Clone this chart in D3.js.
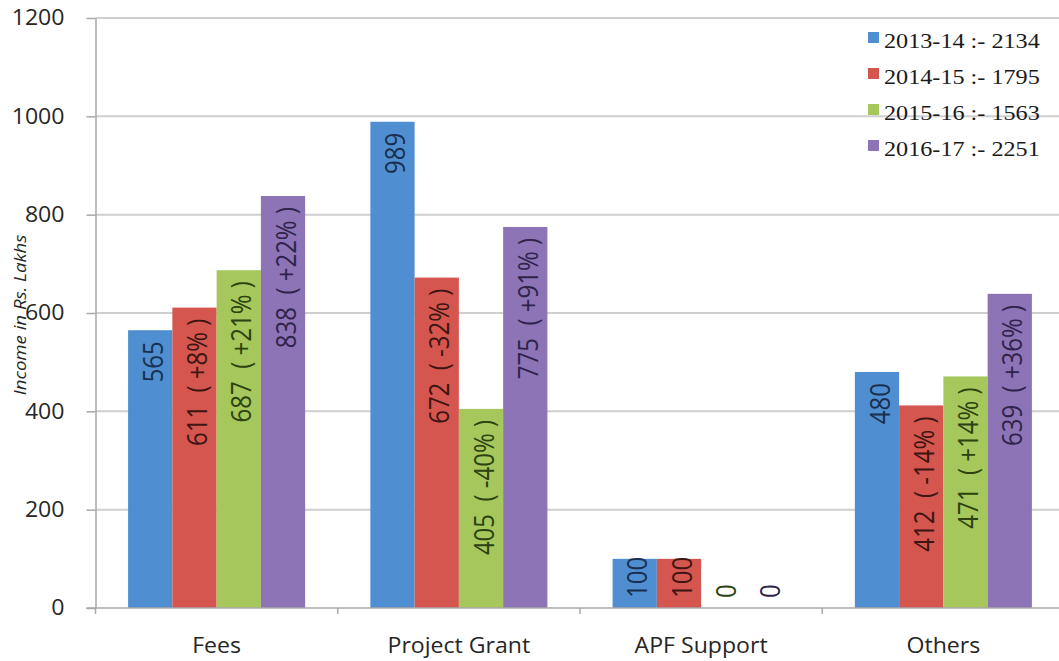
<!DOCTYPE html>
<html>
<head>
<meta charset="utf-8">
<script src="https://cdn.jsdelivr.net/npm/d3@7"></script>
<style>
  body { margin: 0; background: #fff; }
  svg { display: block; }
  text { font-family: "Open Sans", sans-serif; }
</style>
</head>
<body>
<svg id="chart" width="1059" height="661"></svg>
<script>
// chart data
var categories = ['Fees', 'Project Grant', 'APF Support', 'Others'];
var seriesNames = ['2013-14 :- 2134', '2014-15 :- 1795', '2015-16 :- 1563', '2016-17 :- 2251'];
var values2013 = [565, 989, 100, 480];
var values2014 = [611, 672, 100, 412];
var values2015 = [687, 405, 0, 471];
var values2016 = [838, 775, 0, 639];
var change2013 = ['', '', '', ''];
var change2014 = ['( +8% )', '( -32% )', '', '( -14% )'];
var change2015 = ['( +21% )', '( -40% )', '', '( +14% )'];
var change2016 = ['( +22% )', '( +91% )', '', '( +36% )'];
var yTicks = [0, 200, 400, 600, 800, 1000, 1200];

var seriesColors = ['#4f8fd1', '#d4564f', '#a6c75b', '#8d74b6'];
var labelColors = ['#1a2f50', '#3d1512', '#2c4211', '#30234b'];

var seriesValues = [values2013, values2014, values2015, values2016];
var seriesChanges = [change2013, change2014, change2015, change2016];

var svg = d3.select('#chart');
var width = 1059;

var x0 = d3.scaleBand()
  .domain(categories)
  .range([95.5, 1064.5])
  .padding(0);

var x1 = d3.scaleBand()
  .domain(d3.range(seriesNames.length))
  .range([32.6, x0.bandwidth() - 32.6])
  .padding(0);

var y = d3.scaleLinear()
  .domain([0, 1200])
  .range([608, 18]);

// gridlines
svg.append('g')
  .selectAll('line')
  .data(yTicks.filter(d => d > 0))
  .enter().append('line')
  .attr('x1', x0.range()[0])
  .attr('x2', width)
  .attr('y1', d => y(d))
  .attr('y2', d => y(d))
  .attr('stroke', '#cfcfcf')
  .attr('stroke-width', 2);

// bars
var groups = svg.append('g')
  .selectAll('g')
  .data(categories)
  .enter().append('g')
  .attr('transform', d => `translate(${x0(d)},0)`);

var barData = (c, ci) => seriesValues.map((vals, si) => ({ si: si, value: vals[ci], change: seriesChanges[si][ci] }));

groups.selectAll('rect')
  .data(barData)
  .enter().append('rect')
  .attr('x', d => x1(d.si))
  .attr('width', x1.bandwidth())
  .attr('y', d => y(d.value))
  .attr('height', d => y(0) - y(d.value))
  .attr('fill', d => seriesColors[d.si]);

// value labels, reading upward, ending near the top of each bar
var nb = '\u00a0';
groups.selectAll('g.lbl')
  .data(barData)
  .enter().append('g')
  .attr('class', 'lbl')
  .each(function (d) {
    var g = d3.select(this);
    var t = g.append('text')
      .attr('dominant-baseline', 'central')
      .attr('text-anchor', 'end')
      .attr('transform', 'scale(1.12,1) rotate(-90)')
      .style('font-size', '24px')
      .attr('fill', labelColors[d.si])
      .text(d.change ? d.value + nb + nb + d.change.replace(/ /g, nb) : String(d.value));
    var len = t.node().getComputedTextLength();
    var top = y(d.value) + 11;
    if (top + len > y(0) - 10) top = y(0) - 10 - len;
    g.attr('transform', `translate(${x1(d.si) + x1.bandwidth() / 2 + 2},${top})`);
  });

// y axis
var yAxis = svg.append('g')
  .attr('transform', `translate(${x0.range()[0]},0)`)
  .call(d3.axisLeft(y).tickValues(yTicks).tickFormat(d3.format('d')).tickSize(9).tickSizeOuter(0));
yAxis.select('.domain').attr('stroke', '#a8a8a8').attr('stroke-width', 1.5);
yAxis.selectAll('.tick line').attr('stroke', '#a8a8a8').attr('stroke-width', 1.5);
yAxis.selectAll('.tick text')
  .attr('x', -31 / 1.1)
  .attr('transform', 'scale(1.1,1)')
  .attr('fill', '#262626')
  .style('font-size', '21px')
  .style('font-family', '"Open Sans", sans-serif');

// x axis
var xAxis = svg.append('g')
  .attr('transform', `translate(0,${y(0)})`);
xAxis.append('line')
  .attr('x1', x0.range()[0] - 9)
  .attr('x2', width)
  .attr('stroke', '#a8a8a8')
  .attr('stroke-width', 1.5);
xAxis.selectAll('line.tk')
  .data(categories.map(c => x0(c)).concat([x0.range()[1]]))
  .enter().append('line')
  .attr('class', 'tk')
  .attr('x1', d => d).attr('x2', d => d)
  .attr('y1', 0).attr('y2', 6)
  .attr('stroke', '#a8a8a8')
  .attr('stroke-width', 1.5);
xAxis.selectAll('g.cat')
  .data(categories)
  .enter().append('g')
  .attr('class', 'cat')
  .attr('transform', d => `translate(${x0(d) + x0.bandwidth() / 2},45)`)
  .append('text')
  .attr('text-anchor', 'middle')
  .attr('transform', 'scale(1.1,1)')
  .attr('fill', '#262626')
  .style('font-size', '21px')
  .text(d => d);

// y axis title
svg.append('text')
  .attr('transform', 'translate(26,315) rotate(-90) scale(1.2,1)')
  .attr('text-anchor', 'middle')
  .attr('fill', '#262626')
  .style('font-size', '15.5px')
  .style('font-style', 'italic')
  .text('Income in Rs. Lakhs');

// legend
var legend = svg.append('g')
  .selectAll('g')
  .data(seriesNames)
  .enter().append('g')
  .attr('transform', (d, i) => `translate(868,${32 + i * 36})`);
legend.append('rect')
  .attr('width', 11)
  .attr('height', 11)
  .attr('fill', (d, i) => seriesColors[i]);
legend.append('text')
  .attr('transform', 'translate(16,16) scale(1.18,1)')
  .attr('fill', '#1a1a1a')
  .style('font-family', '"Liberation Serif", "Times New Roman", serif')
  .style('font-size', '20.5px')
  .text(d => d);
</script>
</body>
</html>
